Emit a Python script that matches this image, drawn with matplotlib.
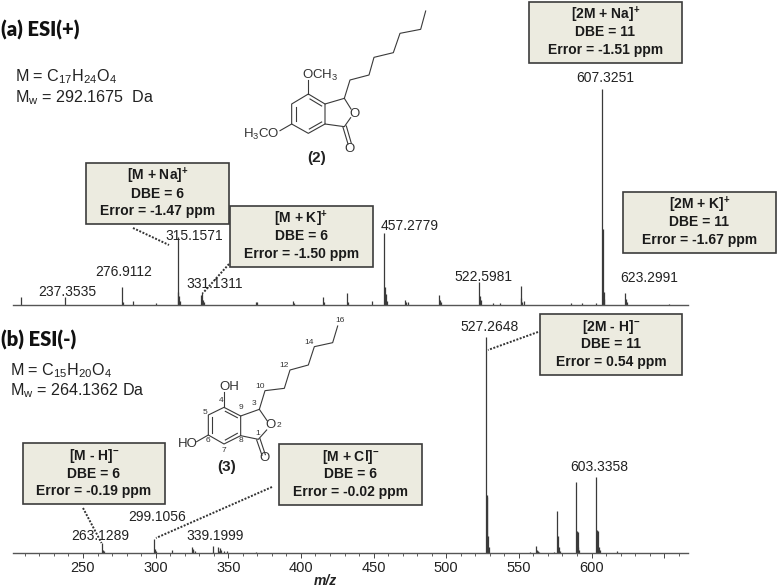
import matplotlib
matplotlib.use('Agg')
import matplotlib.pyplot as plt
from matplotlib.patches import Rectangle

plt.rcParams['font.family'] = ['Liberation Sans', 'DejaVu Sans']
plt.rcParams['mathtext.default'] = 'regular'

# spectrum (a), ESI(+): m/z and relative intensity
pos_mz = [207.6, 237.4, 276.9, 277.5, 284.2, 300.5, 315.16, 315.7, 316.2, 316.8, 331.13, 331.7, 332.1, 332.7, 333.2, 369.0, 369.6,
          394.7, 395.3, 415.4, 415.9, 431.6, 432.2, 448.8, 457.28, 457.8, 458.3, 458.9, 471.4, 472.6, 474.0, 495.0, 495.6, 496.2, 522.6, 523.1, 523.7,
          532.0, 537.0, 551.2, 551.8, 552.4, 553.5, 585.6, 593.6, 603.0, 607.33, 607.8, 608.3, 608.9, 623.3, 623.8, 624.4, 653.0]
pos_int = [3.3, 3.6, 8.0, 1.2, 1.4, 0.5, 31.4, 6.0, 4.0, 1.5, 4.2, 2.0, 5.9, 2.0, 1.0, 1.0, 1.0,
           1.4, 0.7, 3.6, 1.0, 5.4, 1.0, 1.4, 33.0, 8.0, 5.0, 1.5, 2.0, 1.0, 1.0, 4.4, 2.0, 1.0, 10.6, 4.0, 2.0,
           0.7, 0.7, 8.8, 3.0, 1.2, 1.6, 0.6, 0.5, 0.5, 100.0, 35.0, 6.0, 2.5, 5.2, 2.5, 1.2, 0.4]

# spectrum (b), ESI(-)
neg_mz = [263.13, 263.7, 264.2, 299.11, 299.7, 300.3, 311.4, 324.8, 325.4, 326.0, 326.8, 339.2, 339.8, 343.0, 343.6, 344.5, 345.2, 347.0,
          349.0, 369.0, 527.26, 527.8, 528.3, 528.9, 529.5, 558.0, 561.8, 562.4, 563.0, 563.8, 574.0, 576.2, 576.8, 577.4, 578.0,
          589.3, 589.9, 590.4, 591.0, 591.6, 603.34, 603.9, 604.4, 605.0, 605.6, 617.7]
neg_int = [4.8, 1.6, 1.0, 6.6, 2.0, 1.0, 1.2, 2.8, 1.8, 1.2, 0.7, 3.4, 0.6, 3.0, 0.8, 2.2, 1.2, 0.7,
           0.7, 0.4, 100.0, 27.0, 26.0, 8.0, 3.0, 0.6, 3.2, 1.6, 1.0, 0.6, 0.5, 19.6, 8.0, 3.0, 1.0,
           33.0, 10.0, 9.6, 3.0, 1.5, 35.0, 10.5, 10.2, 3.0, 1.5, 0.7]

tick_values = [250, 300, 350, 400, 450, 500, 550, 600, 650]
tick_labels = ['250', '300', '350', '400', '450', '500', '550', '600', '']
minor_ticks = [m for m in range(210, 670, 10) if m % 50 != 0]

# peak labels: text, x px, y px
peak_labels = [('237.3535', 67, 292.5), ('276.9112', 124, 272.5), ('315.1571', 194, 236),
               ('331.1311', 214.5, 284), ('457.2779', 410, 226.5), ('522.5981', 483, 277),
               ('623.2991', 649, 278), ('607.3251', 605, 78), ('527.2648', 489.5, 327),
               ('603.3358', 599, 467), ('263.1289', 100, 536), ('299.1056', 156.7, 517),
               ('339.1999', 215, 536)]

# callout boxes: x0, y0, x1, y1, three lines
boxes = [(529, 2, 682, 63, '[2M + Na]$^{+}$', 'DBE = 11', 'Error = -1.51 ppm'),
         (86, 163, 229, 224, '[M + Na]$^{+}$', 'DBE = 6', 'Error = -1.47 ppm'),
         (230, 206, 373, 267, '[M + K]$^{+}$', 'DBE = 6', 'Error = -1.50 ppm'),
         (623, 192, 776, 253, '[2M + K]$^{+}$', 'DBE = 11', 'Error = -1.67 ppm'),
         (540, 314, 682, 375, '[2M - H]$^{-}$', 'DBE = 11', 'Error = 0.54 ppm'),
         (23, 443, 165, 504, '[M - H]$^{-}$', 'DBE = 6', 'Error = -0.19 ppm'),
         (279, 444, 422, 505, '[M + Cl]$^{-}$', 'DBE = 6', 'Error = -0.02 ppm')]

leaders = [((133, 228), (169, 245)), ((229, 264), (203, 293)), ((538, 332), (488, 350)),
           ((83, 508), (101.5, 543)), ((272, 487), (156, 538))]

# structure (2), in 3x crop coordinates
s2_bonds = [[(587, 33), (572, 88), (510, 100), (490, 158), (432, 172), (417, 225), (360, 240), (343, 295)],
            [(343, 295), (363, 327)], [(362, 353), (343, 380), (285, 372), (285, 312), (343, 295)],
            [(285, 312), (235, 282), (185, 312), (185, 372), (235, 400), (285, 372)],
            [(275, 318), (240, 297)], [(197, 320), (197, 364)], [(238, 387), (275, 366)],
            [(235, 282), (235, 240)], [(185, 372), (150, 392)],
            [(339, 382), (354, 432)], [(349, 378), (364, 430)]]
s2_text = [('OCH$_3$', 269, 225, 'center', 9.5), ('H$_3$CO', 95, 403, 'center', 9.5), ('O', 373, 341, 'center', 9.5),
           ('O', 358, 447, 'center', 9.5)]

# structure (3)
s3_bonds = [[(563, 18), (548, 68), (493, 80), (475, 135), (420, 150), (403, 205), (345, 212), (328, 268)],
            [(328, 268), (352, 303)], [(350, 330), (325, 358), (272, 347), (272, 288), (328, 268)],
            [(272, 288), (222, 262), (175, 285), (175, 345), (222, 372), (272, 347)],
            [(262, 293), (226, 274)], [(186, 292), (186, 338)], [(226, 360), (262, 340)],
            [(222, 262), (222, 215)], [(175, 345), (140, 365)],
            [(320, 360), (336, 406)], [(330, 356), (346, 404)]]
s3_text = [('OH', 237, 200, 'center', 9.5), ('HO', 112, 373, 'center', 9.5), ('O', 363, 316, 'center', 9.5),
           ('O', 345, 415, 'center', 9.5), ('10', 330, 200, 'center', 6), ('12', 402, 137, 'center', 6),
           ('14', 478, 67, 'center', 6), ('16', 571, 2, 'center', 6), ('3', 313, 250, 'center', 6),
           ('9', 272, 263, 'center', 6), ('4', 212, 243, 'center', 6), ('5', 165, 278, 'center', 6),
           ('6', 175, 363, 'center', 6), ('7', 223, 392, 'center', 6), ('8', 272, 362, 'center', 6),
           ('1', 322, 341, 'center', 6), ('2', 388, 316, 'center', 6)]

W, H = 778, 588
x0_px, x1_px = 13, 688
mz_lo = 250 - (83 - x0_px) / 1.453
mz_hi = 600 + (x1_px - 591.5) / 1.453
line_col = '#3a3a3a'

fig = plt.figure(figsize=(7.78, 5.88), dpi=100, facecolor='white')


def spectrum(base_y, top_y, mz, inten):
    ax = fig.add_axes([x0_px / W, 1 - base_y / H, (x1_px - x0_px) / W, (base_y - top_y) / H])
    ax.vlines(mz, 0, inten, color=line_col, linewidth=0.9)
    ax.set_xlim(mz_lo, mz_hi)
    ax.set_ylim(0, 100)
    ax.set_yticks([])
    ax.patch.set_alpha(0)
    for s in ['top', 'left', 'right']:
        ax.spines[s].set_visible(False)
    ax.spines['bottom'].set_color('#555555')
    ax.spines['bottom'].set_linewidth(1.0)
    return ax


ax1 = spectrum(304.5, 89, pos_mz, pos_int)
ax1.set_xticks([])

ax2 = spectrum(553, 337, neg_mz, neg_int)
ax2.set_xticks(tick_values)
ax2.set_xticklabels(tick_labels, fontsize=10.5, color='#222222')
ax2.set_xticks(minor_ticks, minor=True)
ax2.tick_params(axis='x', which='major', length=3.5, width=0.7, color='#444444', pad=2.5)
ax2.tick_params(axis='x', which='minor', length=2, width=0.6, color='#444444')

# everything else is placed in pixel coordinates on a full figure overlay
ov = fig.add_axes([0, 0, 1, 1])
ov.set_xlim(0, W)
ov.set_ylim(H, 0)
ov.axis('off')
ov.patch.set_alpha(0)

for t, x, y in peak_labels:
    ov.text(x, y, t, ha='center', va='center', fontsize=10, color='#222222')

for a, b in leaders:
    ov.plot([a[0], b[0]], [a[1], b[1]], color='#333333', linewidth=1.4, linestyle=(0, (1, 0.8)))

for x0, y0, x1, y1, l1, l2, l3 in boxes:
    ov.add_patch(Rectangle((x0, y0), x1 - x0, y1 - y0, facecolor='#ECEBE0', edgecolor='#3c3c3c', linewidth=1.2, zorder=3))
    cx = (x0 + x1) / 2
    cy = (y0 + y1) / 2
    for i, t in enumerate([l1, l2, l3]):
        ov.text(cx, cy + (i - 1) * 17.2, t, ha='center', va='center', fontsize=10, fontweight='bold', color='#1a1a1a', zorder=4)


def draw_structure(bonds, labels, off_x, off_y):
    for b in bonds:
        ov.plot([off_x + p[0] / 3 for p in b], [off_y + p[1] / 3 for p in b], color='#3a3a3a', linewidth=0.8)
    for t, x, y, ha, fs in labels:
        ov.text(off_x + x / 3, off_y + y / 3, t, ha=ha, va='center', fontsize=fs, color='#333333')


draw_structure(s2_bonds, s2_text, 230, 0)
draw_structure(s3_bonds, s3_text, 150, 320)
ov.text(317, 158, '(2)', ha='center', va='center', fontsize=11, fontweight='bold', color='#222222')
ov.text(227, 467, '(3)', ha='center', va='center', fontsize=11, fontweight='bold', color='#222222')

ov.text(1, 30, '(a) ESI(+)', ha='left', va='center', fontsize=14.5, fontweight=800, family=['Lato', 'DejaVu Sans'], color='#111111')
ov.text(1, 340, '(b) ESI(-)', ha='left', va='center', fontsize=14.5, fontweight=800, family=['Lato', 'DejaVu Sans'], color='#111111')
ov.text(15, 77, 'M = C$_{17}$H$_{24}$O$_{4}$', ha='left', va='center', fontsize=11.6, color='#222222')
ov.text(15, 98, 'M$_{w}$ = 292.1675  Da', ha='left', va='center', fontsize=11.6, color='#222222')
ov.text(10, 371, 'M = C$_{15}$H$_{20}$O$_{4}$', ha='left', va='center', fontsize=11.6, color='#222222')
ov.text(10, 391, 'M$_{w}$ = 264.1362 Da', ha='left', va='center', fontsize=11.6, color='#222222')
ov.text(325, 581, 'm/z', ha='center', va='center', fontsize=10, fontweight='bold', fontstyle='italic', color='#222222')

fig.savefig('out.png', dpi=100)
